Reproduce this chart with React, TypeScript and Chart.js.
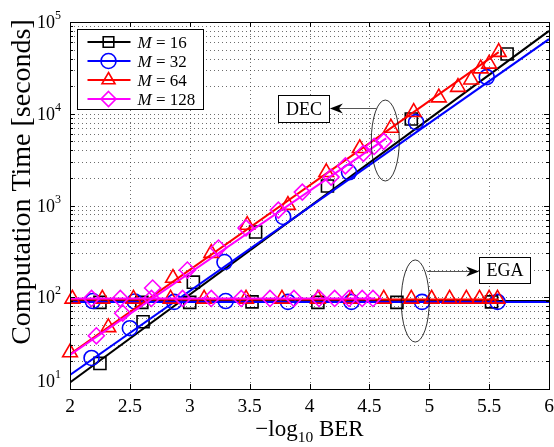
import { useEffect, useRef } from 'react';
import { Chart, registerables } from 'chart.js';

Chart.register(...registerables);

const FONT = '"Liberation Serif", "Times New Roman", Times, serif';

// axis
const X_MIN = 2;
const X_MAX = 6;
const xTickValues = [2, 2.5, 3, 3.5, 4, 4.5, 5, 5.5, 6];
const xTickLabels = ['2', '2.5', '3', '3.5', '4', '4.5', '5', '5.5', '6'];
const Y_MIN = 10;
const Y_MAX = 100000;
const yExponents = [1, 2, 3, 4, 5];

// series labels
const seriesLabels = ['16', '32', '64', '128'];
const seriesColors = ['#000000', '#0000ff', '#ff0000', '#ff00ff'];
const seriesMarkers = ['rect', 'circle', 'triangle', 'rectRot'];

// M = 16 (black squares)
const m16DecX = [2.25, 2.61, 3.03, 3.55, 4.15, 4.85, 5.65];
const m16DecY = [19, 54, 146, 514, 1630, 8770, 44800];
const m16DecLineX = [2, 6];
const m16DecLineY = [11.8, 80000];
const m16EgaX = [2.25, 2.6, 3.0, 3.52, 4.07, 4.73, 5.52];
const m16EgaY = [88, 88, 88, 89, 88, 88, 89];
const m16EgaLineX = [2, 6];
const m16EgaLineY = [91, 91];

// M = 32 (blue circles)
const m32DecX = [2.18, 2.5, 3.29, 3.78, 4.33, 4.89, 5.48];
const m32DecY = [21.8, 46, 242, 750, 2300, 8100, 25100];
const m32DecLineX = [2, 6];
const m32DecLineY = [14.2, 65000];
const m32EgaX = [2.19, 2.54, 2.87, 3.3, 3.82, 4.35, 4.94, 5.57];
const m32EgaY = [91, 90, 89, 91, 89, 89, 89, 89];
const m32EgaLineX = [2, 6];
const m32EgaLineY = [89, 89];

// M = 64 (red triangles)
const m64DecX = [2.0, 2.32, 2.86, 3.18, 3.48, 3.82, 4.14, 4.42, 4.68, 4.87, 5.08, 5.24, 5.35, 5.43, 5.5, 5.58];
const m64DecY = [25, 47, 162, 303, 612, 1010, 2300, 4200, 7000, 10400, 15000, 19500, 23500, 31000, 35000, 47000];
const m64DecLineX = [2, 5.58];
const m64DecLineY = [24, 47000];
const m64EgaX = [2.02, 2.27, 2.53, 2.84, 3.12, 3.47, 3.77, 4.07, 4.35, 4.62, 4.85, 5.02, 5.17, 5.31, 5.42, 5.5, 5.57];
const m64EgaY = [96, 96, 96, 96, 96, 96, 96, 96, 96, 96, 96, 96, 96, 96, 96, 96, 96];
const m64EgaLineX = [2, 5.58];
const m64EgaLineY = [94.5, 94.5];

// M = 128 (magenta diamonds)
const m128DecX = [2.22, 2.44, 2.69, 2.98, 3.24, 3.47, 3.74, 3.94, 4.18, 4.3, 4.45, 4.54, 4.62];
const m128DecY = [38, 67, 126, 198, 344, 569, 890, 1400, 2040, 2700, 3700, 4400, 5000];
const m128DecLineX = [2, 4.64];
const m128DecLineY = [23.5, 5400];
const m128EgaX = [2.18, 2.42, 2.68, 2.94, 3.18, 3.43, 3.67, 3.87, 4.08, 4.21, 4.33, 4.44, 4.53];
const m128EgaY = [97, 97, 97, 97, 97, 97, 97, 97, 97, 97, 97, 97, 97];
const m128EgaLineX = [2, 4.55];
const m128EgaLineY = [97, 97];

// annotations (data units)
const decEllipse = { x: 4.633, dx: 0.117, yLow: 1850, yHigh: 14100 };
const decArrow = { x0: 4.56, x1: 4.17, y: 11560 };
const decBox = { x0: 3.733, x1: 4.167, y0: 8130, y1: 16000, text: 'DEC' };
const egaEllipse = { x: 4.883, dx: 0.117, yLow: 32.5, yHigh: 255 };
const egaArrow = { x0: 4.983, x1: 5.417, y: 193 };
const egaBox = { x0: 5.417, x1: 5.842, y0: 143, y1: 275, text: 'EGA' };

const pts = (xs: number[], ys: number[]) => xs.map((x, i) => ({ x, y: ys[i] }));

function drawMarker(ctx: CanvasRenderingContext2D, style: string, x: number, y: number, r: number) {
  ctx.beginPath();
  if (style === 'rect') {
    const s = Math.SQRT1_2 * r;
    ctx.rect(x - s, y - s, 2 * s, 2 * s);
  } else if (style === 'circle') {
    ctx.arc(x, y, r, 0, Math.PI * 2);
  } else if (style === 'triangle') {
    ctx.moveTo(x, y - r);
    ctx.lineTo(x + r * Math.sin((2 * Math.PI) / 3), y - r * Math.cos((2 * Math.PI) / 3));
    ctx.lineTo(x + r * Math.sin((4 * Math.PI) / 3), y - r * Math.cos((4 * Math.PI) / 3));
    ctx.closePath();
  } else {
    ctx.moveTo(x, y - r);
    ctx.lineTo(x + r, y);
    ctx.lineTo(x, y + r);
    ctx.lineTo(x - r, y);
    ctx.closePath();
  }
  ctx.stroke();
}

const decorPlugin = {
  id: 'matlabDecor',
  beforeDatasetsDraw(chart: any) {
    const { ctx, chartArea: a, scales } = chart;
    const xs = scales.x;
    const ys = scales.y;
    ctx.save();
    ctx.strokeStyle = 'rgba(60,60,60,0.75)';
    ctx.lineWidth = 1;
    ctx.setLineDash([1, 3]);
    for (const v of xTickValues) {
      if (v === X_MIN || v === X_MAX) continue;
      const px = Math.round(xs.getPixelForValue(v)) + 0.5;
      ctx.beginPath();
      ctx.moveTo(px, a.top);
      ctx.lineTo(px, a.bottom);
      ctx.stroke();
    }
    for (let e = 1; e < 5; e++) {
      for (let m = 1; m <= 9; m++) {
        if (e === 1 && m === 1) continue;
        const val = m * Math.pow(10, e);
        const py = Math.round(ys.getPixelForValue(val)) + 0.5;
        ctx.beginPath();
        ctx.moveTo(a.left, py);
        ctx.lineTo(a.right, py);
        ctx.stroke();
      }
    }
    ctx.restore();
  },
  afterDatasetsDraw(chart: any) {
    const { ctx, chartArea: a, scales } = chart;
    const xs = scales.x;
    const ys = scales.y;
    ctx.save();
    ctx.setLineDash([]);
    // box
    ctx.strokeStyle = '#000';
    ctx.lineWidth = 1;
    ctx.strokeRect(Math.round(a.left) + 0.5, Math.round(a.top) + 0.5, Math.round(a.right - a.left), Math.round(a.bottom - a.top));
    // ticks x
    ctx.beginPath();
    for (const v of xTickValues) {
      const px = Math.round(xs.getPixelForValue(v)) + 0.5;
      ctx.moveTo(px, a.bottom);
      ctx.lineTo(px, a.bottom - 5);
      ctx.moveTo(px, a.top);
      ctx.lineTo(px, a.top + 5);
    }
    // ticks y
    for (let e = 1; e <= 5; e++) {
      for (let m = 1; m <= 9; m++) {
        if (e === 5 && m > 1) continue;
        const val = m * Math.pow(10, e);
        const py = Math.round(ys.getPixelForValue(val)) + 0.5;
        const len = m === 1 ? 5 : 3;
        ctx.moveTo(a.left, py);
        ctx.lineTo(a.left + len, py);
        ctx.moveTo(a.right, py);
        ctx.lineTo(a.right - len, py);
      }
    }
    ctx.stroke();

    // x tick labels
    ctx.fillStyle = '#000';
    ctx.textBaseline = 'alphabetic';
    ctx.textAlign = 'center';
    ctx.font = `19.5px ${FONT}`;
    xTickValues.forEach((v, i) => {
      ctx.fillText(xTickLabels[i], xs.getPixelForValue(v), a.bottom + 23);
    });

    // y tick labels
    for (const e of yExponents) {
      let py = ys.getPixelForValue(Math.pow(10, e));
      if (e === 1) py -= 8;
      ctx.font = `18px ${FONT}`;
      ctx.textAlign = 'right';
      ctx.fillText('10', 55, py + 6);
      ctx.font = `12px ${FONT}`;
      ctx.textAlign = 'left';
      ctx.fillText(String(e), 55, py - 3);
    }

    // y title
    ctx.save();
    ctx.translate(30, 182);
    ctx.rotate(-Math.PI / 2);
    ctx.font = `28px ${FONT}`;
    ctx.textAlign = 'center';
    ctx.fillText('Computation Time [seconds]', 0, 0);
    ctx.restore();

    // x title: −log10 BER
    {
      const big = `23px ${FONT}`;
      const small = `15.5px ${FONT}`;
      const p1 = '\u2212log';
      const p2 = '10';
      const p3 = ' BER';
      ctx.font = big;
      const w1 = ctx.measureText(p1).width;
      const w3 = ctx.measureText(p3).width;
      ctx.font = small;
      const w2 = ctx.measureText(p2).width;
      const total = w1 + w2 + w3;
      let x0 = (a.left + a.right) / 2 - total / 2;
      const base = 436;
      ctx.textAlign = 'left';
      ctx.font = big;
      ctx.fillText(p1, x0, base);
      x0 += w1;
      ctx.font = small;
      ctx.fillText(p2, x0, base + 6);
      x0 += w2;
      ctx.font = big;
      ctx.fillText(p3, x0, base);
    }

    // annotations
    const drawEllipse = (el: any) => {
      const cx = xs.getPixelForValue(el.x);
      const rx = Math.abs(xs.getPixelForValue(el.x + el.dx) - cx);
      const yt = ys.getPixelForValue(el.yHigh);
      const yb = ys.getPixelForValue(el.yLow);
      ctx.beginPath();
      ctx.ellipse(cx, (yt + yb) / 2, rx, (yb - yt) / 2, 0, 0, Math.PI * 2);
      ctx.strokeStyle = '#000';
      ctx.lineWidth = 0.8;
      ctx.stroke();
    };
    const drawArrow = (ar: any) => {
      const x0 = xs.getPixelForValue(ar.x0);
      const x1 = xs.getPixelForValue(ar.x1);
      const y = Math.round(ys.getPixelForValue(ar.y)) + 0.5;
      const dir = Math.sign(x1 - x0);
      ctx.beginPath();
      ctx.moveTo(x0, y);
      ctx.lineTo(x1 - dir * 6, y);
      ctx.strokeStyle = '#555';
      ctx.lineWidth = 1;
      ctx.stroke();
      ctx.beginPath();
      ctx.moveTo(x1, y);
      ctx.lineTo(x1 - dir * 13, y - 5);
      ctx.lineTo(x1 - dir * 9, y);
      ctx.lineTo(x1 - dir * 13, y + 5);
      ctx.closePath();
      ctx.fillStyle = '#000';
      ctx.fill();
    };
    const drawBox = (b: any) => {
      const x0 = Math.round(xs.getPixelForValue(b.x0)) + 0.5;
      const x1 = Math.round(xs.getPixelForValue(b.x1)) + 0.5;
      const y0 = Math.round(ys.getPixelForValue(b.y1)) + 0.5;
      const y1 = Math.round(ys.getPixelForValue(b.y0)) + 0.5;
      ctx.fillStyle = '#fff';
      ctx.fillRect(x0, y0, x1 - x0, y1 - y0);
      ctx.strokeStyle = '#000';
      ctx.lineWidth = 1;
      ctx.strokeRect(x0, y0, x1 - x0, y1 - y0);
      ctx.fillStyle = '#000';
      ctx.font = `18px ${FONT}`;
      ctx.textAlign = 'center';
      ctx.textBaseline = 'middle';
      ctx.fillText(b.text, (x0 + x1) / 2, (y0 + y1) / 2 + 1);
      ctx.textBaseline = 'alphabetic';
    };
    drawEllipse(decEllipse);
    drawArrow(decArrow);
    drawBox(decBox);
    drawEllipse(egaEllipse);
    drawArrow(egaArrow);
    drawBox(egaBox);

    // legend
    {
      const lx0 = a.left + 7.5;
      const ly0 = a.top + 7.5;
      const lw = 126;
      const lh = 80;
      ctx.fillStyle = '#fff';
      ctx.fillRect(lx0, ly0, lw, lh);
      ctx.strokeStyle = '#000';
      ctx.lineWidth = 1;
      ctx.strokeRect(lx0, ly0, lw, lh);
      for (let i = 0; i < seriesLabels.length; i++) {
        const y = ly0 + 12.5 + i * 19;
        ctx.strokeStyle = seriesColors[i];
        ctx.lineWidth = 2;
        ctx.beginPath();
        ctx.moveTo(lx0 + 10, y);
        ctx.lineTo(lx0 + 53, y);
        ctx.stroke();
        ctx.lineWidth = 1.6;
        drawMarker(ctx, seriesMarkers[i], lx0 + 31, y, 7.5);
        ctx.fillStyle = '#000';
        ctx.textAlign = 'left';
        ctx.font = `italic 17px ${FONT}`;
        ctx.fillText('M', lx0 + 60, y + 6);
        const wm = ctx.measureText('M').width;
        ctx.font = `17px ${FONT}`;
        ctx.fillText(' = ' + seriesLabels[i], lx0 + 60 + wm, y + 6);
      }
    }
    ctx.restore();
  },
};

export default function App() {
  const ref = useRef<HTMLCanvasElement>(null);
  useEffect(() => {
    if (!ref.current) return;
    const lineDs = (xs: number[], ys: number[], color: string, order: number) => ({
      data: pts(xs, ys),
      borderColor: color,
      backgroundColor: color,
      borderWidth: 2,
      pointRadius: 0,
      showLine: true,
      fill: false,
      order,
    });
    const markDs = (xs: number[], ys: number[], color: string, style: string, radius: number, order: number) => ({
      data: pts(xs, ys),
      borderColor: color,
      backgroundColor: 'rgba(0,0,0,0)',
      borderWidth: 0,
      pointRadius: radius,
      pointBorderWidth: 1.6,
      pointStyle: style,
      pointBorderColor: color,
      pointBackgroundColor: 'rgba(0,0,0,0)',
      showLine: false,
      clip: false,
      order,
    });
    const chart = new Chart(ref.current, {
      type: 'line',
      data: {
        datasets: [
          lineDs(m16DecLineX, m16DecLineY, seriesColors[0], 40),
          markDs(m16DecX, m16DecY, seriesColors[0], 'rect', 8.5, 39),
          lineDs(m16EgaLineX, m16EgaLineY, seriesColors[0], 38),
          markDs(m16EgaX, m16EgaY, seriesColors[0], 'rect', 8.5, 37),
          lineDs(m32DecLineX, m32DecLineY, seriesColors[1], 30),
          markDs(m32DecX, m32DecY, seriesColors[1], 'circle', 7.5, 29),
          lineDs(m32EgaLineX, m32EgaLineY, seriesColors[1], 28),
          markDs(m32EgaX, m32EgaY, seriesColors[1], 'circle', 7.5, 27),
          lineDs(m64DecLineX, m64DecLineY, seriesColors[2], 20),
          markDs(m64DecX, m64DecY, seriesColors[2], 'triangle', 8.5, 19),
          lineDs(m64EgaLineX, m64EgaLineY, seriesColors[2], 18),
          markDs(m64EgaX, m64EgaY, seriesColors[2], 'triangle', 8.5, 17),
          lineDs(m128DecLineX, m128DecLineY, seriesColors[3], 10),
          markDs(m128DecX, m128DecY, seriesColors[3], 'rectRot', 8, 9),
          lineDs(m128EgaLineX, m128EgaLineY, seriesColors[3], 8),
          markDs(m128EgaX, m128EgaY, seriesColors[3], 'rectRot', 8, 7),
        ] as any,
      },
      options: {
        responsive: false,
        animation: false,
        events: [],
        layout: { autoPadding: false, padding: { top: 22, right: 5, left: 0, bottom: 0 } },
        plugins: { legend: { display: false }, tooltip: { enabled: false } },
        scales: {
          x: {
            type: 'linear',
            min: X_MIN,
            max: X_MAX,
            ticks: { display: false },
            grid: { display: false, drawTicks: false },
            border: { display: false },
            afterFit: (s: any) => {
              s.height = 58;
            },
          },
          y: {
            type: 'logarithmic',
            min: Y_MIN,
            max: Y_MAX,
            ticks: { display: false },
            grid: { display: false, drawTicks: false },
            border: { display: false },
            afterFit: (s: any) => {
              s.width = 70;
            },
          },
        },
      } as any,
      plugins: [decorPlugin],
    });
    return () => chart.destroy();
  }, []);
  return (
    <div style={{ position: 'absolute', left: 0, top: 0, width: 554, height: 447, background: '#fff' }}>
      <canvas ref={ref} width={554} height={447} style={{ width: 554, height: 447, display: 'block' }} />
    </div>
  );
}
